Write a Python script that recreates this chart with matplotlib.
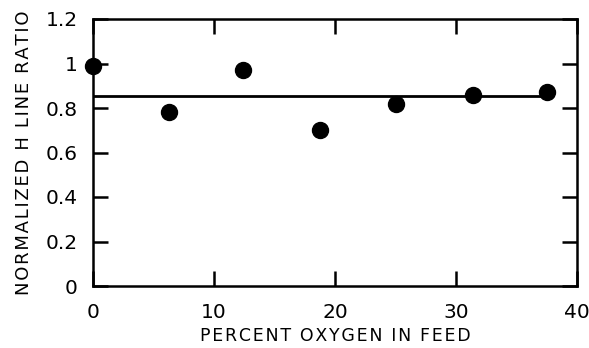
import matplotlib
matplotlib.use("Agg")
import matplotlib.pyplot as plt

oxygen_pct = [0.0, 6.3, 12.4, 18.8, 25.0, 31.4, 37.5]
h_ratio = [0.99, 0.78, 0.97, 0.70, 0.82, 0.86, 0.87]
mean_ratio = 0.855
mean_span = [0.0, 37.5]

x_ticks = [0, 10, 20, 30, 40]
x_tick_labels = ["0", "10", "20", "30", "40"]
y_ticks = [0, 0.2, 0.4, 0.6, 0.8, 1.0, 1.2]
y_tick_labels = ["0", "0.2", "0.4", "0.6", "0.8", "1", "1.2"]

plt.rcParams["font.family"] = ["DejaVu Sans"]


def spaced(s):
    # loose letter spacing like the old lettering
    return "\u200a".join(s).replace("\u200a \u200a", "\u2002")


fig = plt.figure(figsize=(5.89, 3.48), dpi=100)
ax = fig.add_axes([93 / 589, 1 - 286 / 348, 484 / 589, 267 / 348])

ax.plot(mean_span, [mean_ratio, mean_ratio], color="black", lw=2, zorder=2)
ax.plot(oxygen_pct, h_ratio, "o", color="black", ms=11.5, clip_on=False, zorder=3)

ax.set_xlim(0, 40)
ax.set_ylim(0, 1.2)
ax.set_xticks(x_ticks)
ax.set_xticklabels(x_tick_labels)
ax.set_yticks(y_ticks)
ax.set_yticklabels(y_tick_labels)
ax.tick_params(direction="in", length=11, width=1.8, top=True, right=True,
               labelsize=14.5)
ax.tick_params(axis="x", pad=12)
ax.tick_params(axis="y", pad=11)
for s in ax.spines.values():
    s.set_linewidth(1.8)

ax.set_xlabel(spaced("PERCENT OXYGEN IN FEED"), fontsize=12.5)
ax.set_ylabel(spaced("NORMALIZED H LINE RATIO"), fontsize=13)
ax.xaxis.set_label_coords(0.5, -(336 - 286) / 267, transform=ax.transAxes)
ax.yaxis.set_label_coords(-(93 - 24) / 484, 0.5, transform=ax.transAxes)
ax.xaxis.label.set_va("center")
ax.yaxis.label.set_va("center")

fig.savefig("out.png", dpi=100)
